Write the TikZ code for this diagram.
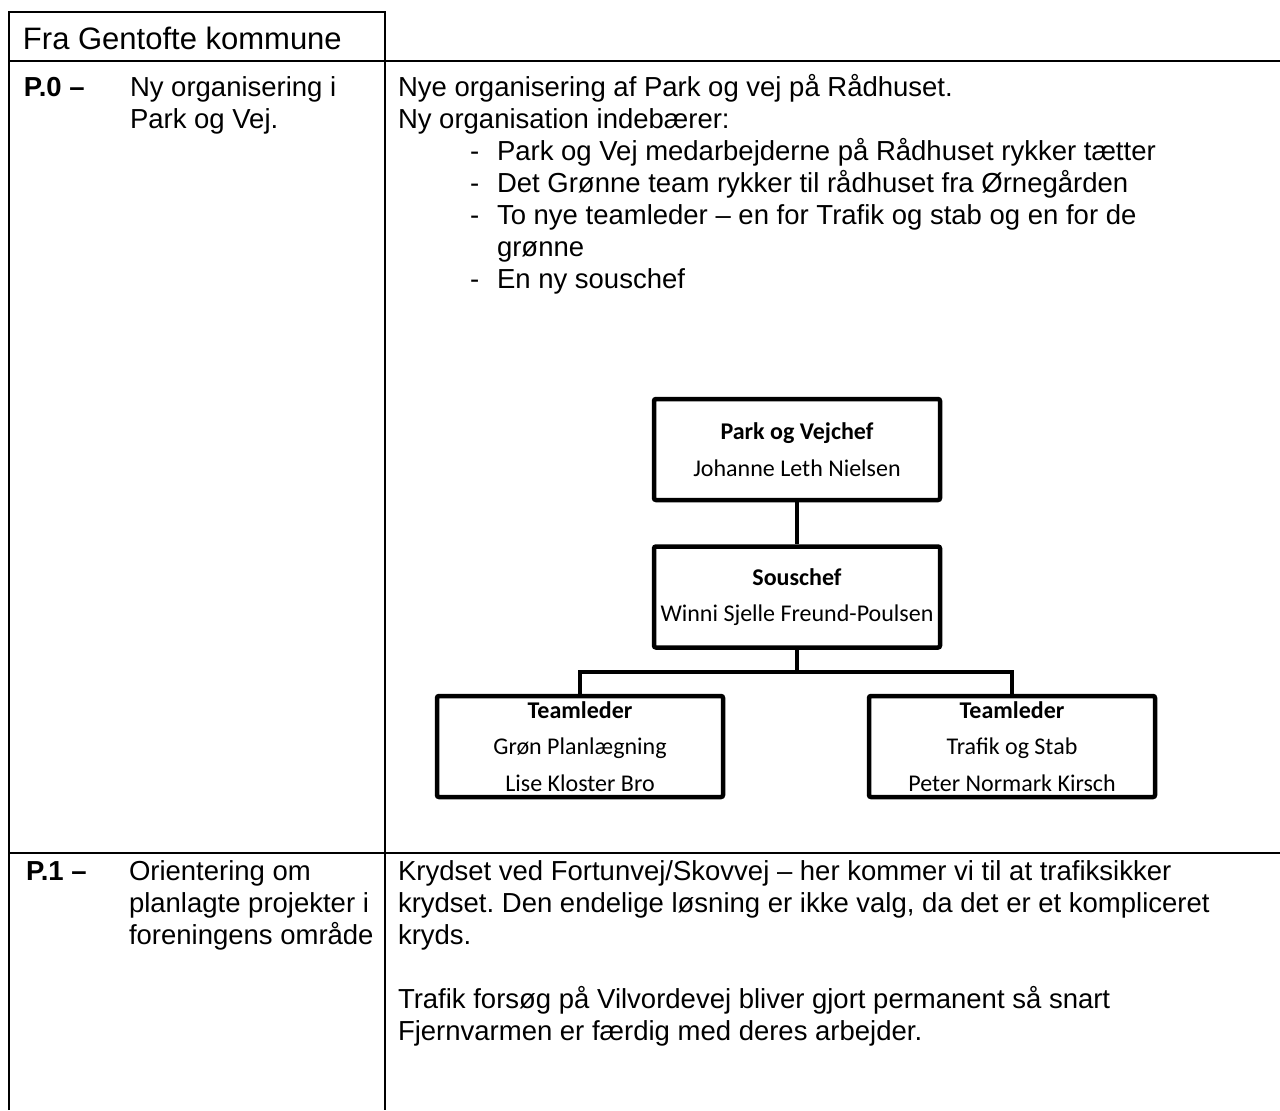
\documentclass[tikz,border=0pt]{standalone}
\usepackage{fontspec}
\setmainfont{Liberation Sans}
\newfontfamily\calibri{Carlito}
\usepackage{tikz}
\usetikzlibrary{positioning,calc}
\frenchspacing

\tikzset{
	cell/.style={anchor=base west, inner sep=0, outer sep=0, align=left, font=\fontsize{13.75}{16}\selectfont},
	headcell/.style={cell, font=\fontsize{15.5}{18}\selectfont},
	orgbox/.style={draw, line width=2.25pt, rounded corners=1pt, minimum width=143pt, minimum height=50.5pt, inner sep=0, align=center, font=\calibri\fontsize{12}{18.25}\selectfont},
	orgline/.style={line width=2.25pt},
	rule/.style={line width=1pt}
}

\begin{document}
\begin{tikzpicture}[x=0.5pt,y=-0.5pt]
\useasboundingbox (0,0) rectangle (1280,1110);
\draw[rule] (9,1110) -- (9,12) -- (385,12) -- (385,1110);
\draw[rule] (9,61) -- (1280,61);
\draw[rule] (9,853) -- (1280,853);

\node[headcell] (head) at (23,49) {Fra Gentofte kommune};

% multi-line cells sit on the baseline of their last line
\node[cell] (pnul) at (24,96) {\textbf{P.0 –}};
\node[cell] (pnultxt) at (130,128) {Ny organisering i\\Park og Vej.};
\node[cell] (intro) at (398,128) {Nye organisering af Park og vej på Rådhuset.\\Ny organisation indebærer:};
\node[cell] (list) at (497,288) {Park og Vej medarbejderne på Rådhuset rykker tætter\\Det Grønne team rykker til rådhuset fra Ørnegården\\To nye teamleder – en for Trafik og stab og en for de\\grønne\\En ny souschef};
\foreach \y [count=\i] in {160,192,224,288}
	\node[cell] (dash\i) at (470,\y) {-};

\node[orgbox] (chef) at (797,449.5) {\textbf{Park og Vejchef}\\Johanne Leth Nielsen};
\node[orgbox, below=21pt of chef] (sous) {\textbf{Souschef}\\Winni Sjelle Freund-Poulsen};
\node[orgbox, below=22pt of sous, xshift=-108.5pt] (teamgron) {\textbf{Teamleder}\\Grøn Planlægning\\Lise Kloster Bro};
\node[orgbox, below=22pt of sous, xshift=107.5pt] (teamtrafik) {\textbf{Teamleder}\\Trafik og Stab\\Peter Normark Kirsch};
\draw[orgline] (chef) -- (sous);
\draw[orgline] (sous.south) -- ++(0,22) coordinate (bar);
\draw[orgline] (teamgron.north) |- (bar) -| (teamtrafik.north);

\node[cell] (pet) at (26,880) {\textbf{P.1 –}};
\node[cell] (pettxt) at (129,944) {Orientering om\\planlagte projekter i\\foreningens område};
\node[cell] (kryds) at (398,1040) {Krydset ved Fortunvej/Skovvej – her kommer vi til at trafiksikker\\krydset. Den endelige løsning er ikke valg, da det er et kompliceret\\kryds.\\[16pt]Trafik forsøg på Vilvordevej bliver gjort permanent så snart\\Fjernvarmen er færdig med deres arbejder.};
\end{tikzpicture}
\end{document}
